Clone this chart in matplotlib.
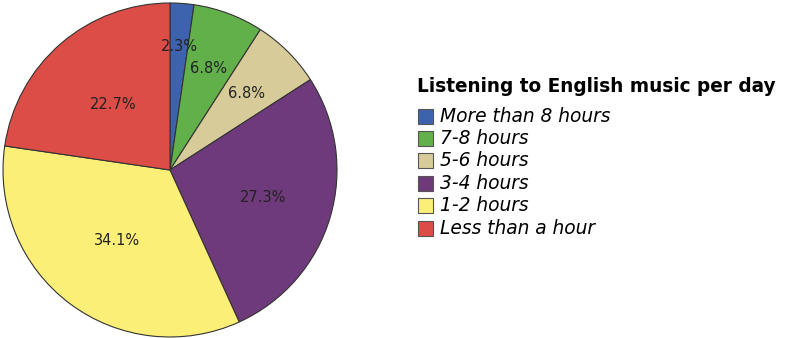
import matplotlib.pyplot as plt
from matplotlib.patches import Rectangle
import numpy as np

categories = ["More than 8 hours", "7-8 hours", "5-6 hours", "3-4 hours", "1-2 hours", "Less than a hour"]
percents = [2.3, 6.8, 6.8, 27.3, 34.1, 22.7]
colors = ["#3E63AE", "#62B04A", "#D7CC99", "#6F3A7B", "#FCEF78", "#DC4D48"]
legend_title = "Listening to English music per day"

# label distance from centre, per slice (as fraction of radius)
label_r = [0.74, 0.65, 0.65, 0.58, 0.53, 0.52]

W, H = 785, 338
fig = plt.figure(figsize=(W / 100, H / 100), dpi=100)
ax = fig.add_axes([3 / W, 1 / H, 334 / W, 334 / H])

wedges, _ = ax.pie(percents, colors=colors, startangle=90, counterclock=False,
                   wedgeprops=dict(edgecolor="#333333", linewidth=0.8))
for w, p, r in zip(wedges, percents, label_r):
    ang = np.deg2rad((w.theta1 + w.theta2) / 2)
    ax.text(r * np.cos(ang), r * np.sin(ang), f"{p}%", ha="center", va="center",
            fontsize=10.5, color="#222222")
ax.set_xlim(-1, 1)
ax.set_ylim(-1, 1)
ax.set_aspect("equal")

# legend, drawn by hand in figure pixels
fig.text(417 / W, 1 - 87 / H, legend_title, fontsize=13.35, weight="bold",
         ha="left", va="center")
for i, (lab, c) in enumerate(zip(categories, colors)):
    yc = 116 + i * 22.4
    fig.add_artist(Rectangle((418 / W, 1 - (yc + 7.5) / H), 15 / W, 15 / H,
                             facecolor=c, edgecolor="#555555", linewidth=0.8,
                             transform=fig.transFigure))
    fig.text(440 / W, 1 - yc / H, lab, fontsize=13.4, style="italic",
             ha="left", va="center")

fig.savefig("out.png")
